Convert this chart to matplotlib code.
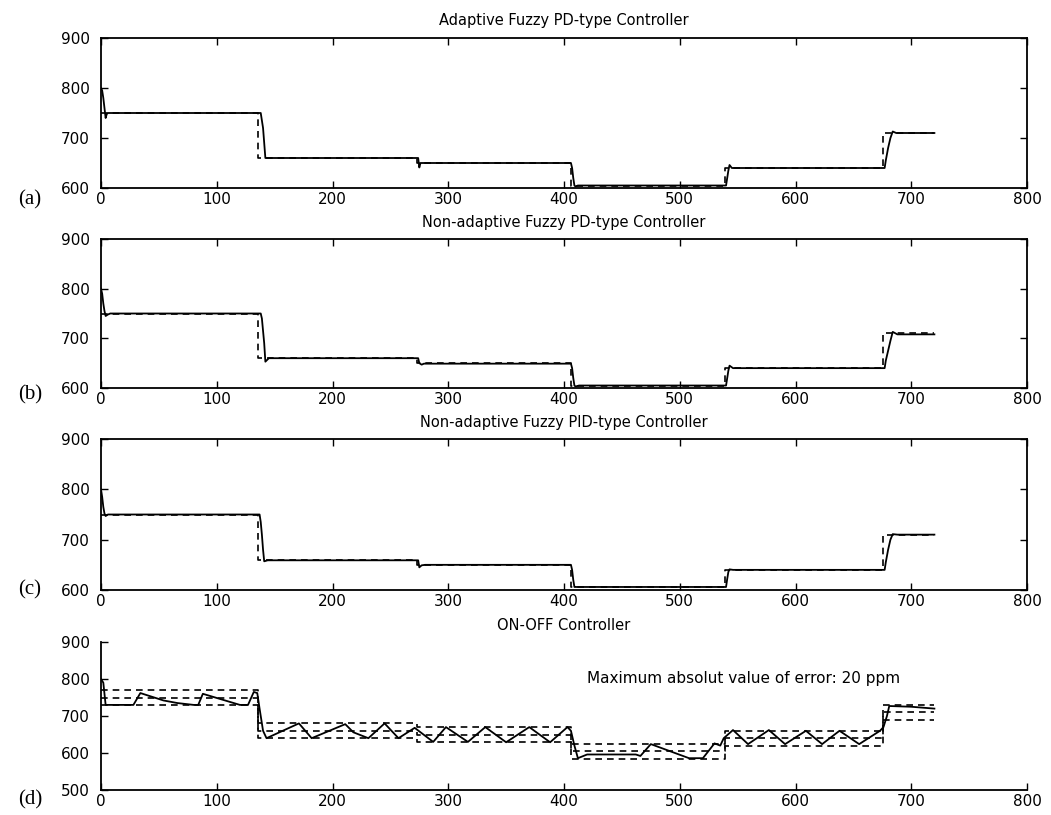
import matplotlib.pyplot as plt

# setpoint (dashed) shared by all four runs
sp_t = [0, 136, 273, 406, 539, 676, 720]
sp_v = [750, 660, 650, 605, 640, 710, 710]

# (a) adaptive fuzzy PD
a_t = [0, 1, 2, 3, 4, 5, 6, 138, 139, 140, 141, 142, 144, 274, 275, 276, 278,
       406, 407, 408, 409, 410, 412, 540, 541, 542, 543, 545,
       677, 678, 680, 682, 684, 687, 720]
a_v = [800, 795, 780, 760, 740, 748, 750, 750, 735, 720, 690, 660, 660, 660, 641, 650, 650,
       650, 640, 620, 605, 603, 605, 605, 620, 635, 646, 640,
       640, 655, 680, 700, 713, 710, 710]

# (b) non-adaptive fuzzy PD
b_t = [0, 1, 2, 3, 4, 6, 8, 138, 139, 140, 141, 142, 145, 274, 275, 277, 279,
       406, 407, 408, 409, 410, 413, 540, 541, 542, 543, 546,
       677, 678, 680, 682, 684, 688, 720]
b_v = [800, 790, 770, 755, 745, 748, 750, 750, 740, 715, 690, 653, 660, 660, 650, 647, 649,
       649, 640, 620, 605, 603, 605, 605, 620, 635, 645, 640,
       640, 655, 675, 695, 713, 708, 708]

# (c) non-adaptive fuzzy PID
c_t = [0, 1, 2, 3, 4, 6, 9, 137, 138, 139, 140, 141, 144, 274, 275, 277, 280,
       406, 407, 408, 409, 410, 413, 540, 541, 542, 543, 546,
       677, 678, 680, 682, 684, 688, 720]
c_v = [800, 785, 765, 752, 747, 750, 750, 750, 735, 710, 680, 657, 659, 659, 645, 649, 650,
       650, 640, 620, 606, 606, 606, 606, 622, 636, 641, 640,
       640, 655, 680, 700, 711, 710, 710]

# (d) ON-OFF controller
d_t = [0, 2, 4, 28, 34, 54, 66, 80, 84, 88, 120, 127, 132, 135, 137, 140, 143,
       171, 182, 211, 218, 231, 245, 257, 271, 287, 298, 317, 332, 350, 370, 388, 403,
       406, 409, 412, 420, 462, 466, 475, 508, 520, 530, 535, 538, 546, 559, 577, 591,
       609, 623, 638, 655, 673, 676, 679, 681, 700, 720]
d_v = [800, 790, 730, 730, 762, 742, 735, 730, 730, 760, 730, 730, 765, 762, 720, 660, 640,
       680, 640, 678, 656, 640, 680, 640, 668, 630, 670, 630, 670, 629, 670, 629, 670,
       660, 620, 586, 596, 596, 592, 624, 586, 586, 626, 620, 640, 662, 624, 662, 624,
       660, 624, 660, 624, 660, 670, 700, 727, 725, 720]
band = 20

titles = ['Adaptive Fuzzy PD-type Controller',
          'Non-adaptive Fuzzy PD-type Controller',
          'Non-adaptive Fuzzy PID-type Controller',
          'ON-OFF Controller']
labels = ['(a)', '(b)', '(c)', '(d)']
runs = [(a_t, a_v), (b_t, b_v), (c_t, c_v), (d_t, d_v)]

fig = plt.figure(figsize=(10.51, 8.15), dpi=100)
H = 815.0
tops = [38, 239, 439, 642]
bots = [188, 388, 590, 790]
lbl_y = [200, 395, 590, 800]

for i in range(4):
    ax = fig.add_axes([101 / 1051.0, 1 - bots[i] / H, 926 / 1051.0, (bots[i] - tops[i]) / H])
    t, v = runs[i]
    ax.plot(sp_t, sp_v, 'k--', lw=1.2, dashes=(4, 3), drawstyle='steps-post')
    if i == 3:
        ax.plot(sp_t, [s + band for s in sp_v], 'k--', lw=1.2, dashes=(4, 3), drawstyle='steps-post')
        ax.plot(sp_t, [s - band for s in sp_v], 'k--', lw=1.2, dashes=(4, 3), drawstyle='steps-post')
    ax.plot(t, v, 'k-', lw=1.3)
    ax.set_xlim(0, 800)
    ax.set_xticks(range(0, 801, 100))
    if i == 3:
        ax.set_ylim(500, 900)
        ax.set_yticks(range(500, 901, 100))
        ax.spines['top'].set_visible(False)
        ax.spines['right'].set_visible(False)
        ax.tick_params(direction='in', length=5, width=1, labelsize=11, pad=8)
        ax.text(555, 800, 'Maximum absolut value of error: 20 ppm', ha='center', va='center',
                fontsize=11)
    else:
        ax.set_ylim(600, 900)
        ax.set_yticks(range(600, 901, 100))
        ax.tick_params(direction='in', length=5, width=1, labelsize=11, pad=8,
                       top=True, right=True)
    ax.tick_params(axis='x', pad=3)
    for s in ax.spines.values():
        s.set_linewidth(1.3)
    ax.set_title(titles[i], fontsize=10.5, pad=9)
    fig.text(0.017, 1 - lbl_y[i] / H, labels[i], family='Liberation Serif', fontsize=15,
             va='center')

plt.savefig('out.png')
plt.close()
